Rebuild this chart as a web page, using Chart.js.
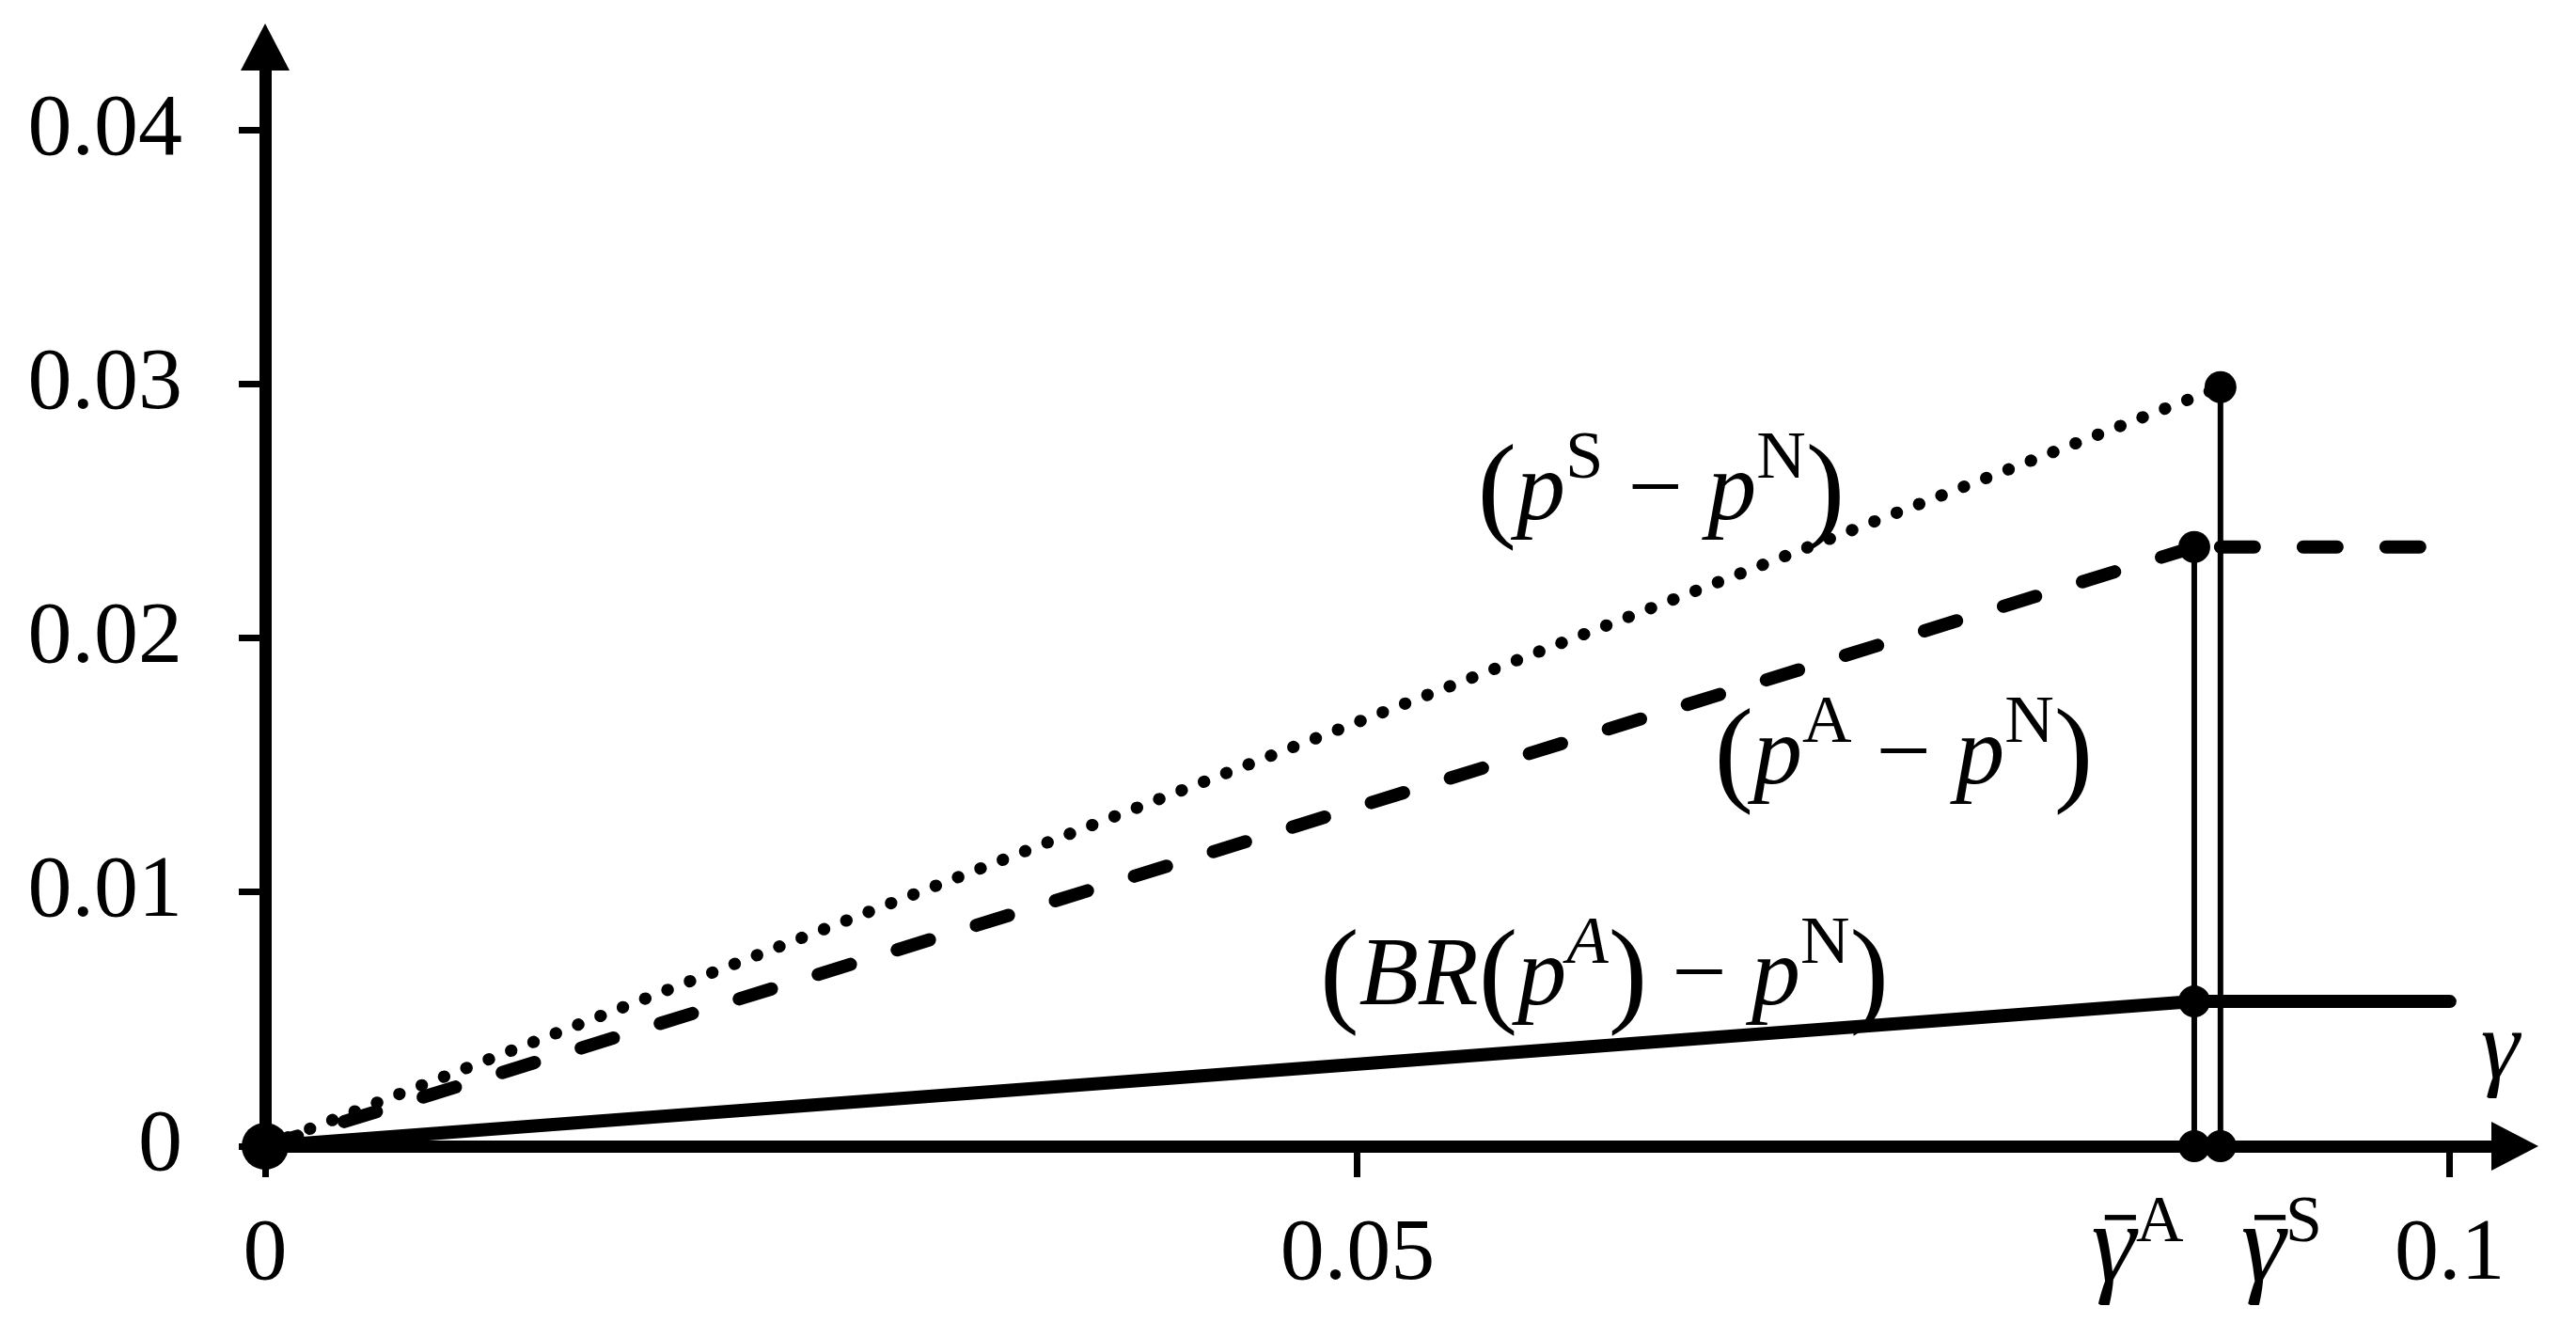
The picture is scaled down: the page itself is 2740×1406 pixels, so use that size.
<!DOCTYPE html>
<html>
<head>
<meta charset="utf-8">
<script src="https://cdn.jsdelivr.net/npm/chart.js@4.4.1/dist/chart.umd.min.js"></script>
<style>
    body { margin: 0; background: #fff; }
    #wrap { width: 2740px; height: 1406px; position: relative; }
</style>
</head>
<body>
<div id="wrap"><canvas id="gapChart"></canvas></div>
<script>
// thresholds gamma-bar A and S, and right end of the plotted range
const gammaBar = [0.0883, 0.0895];
const gammaEnd = 0.1;

// curve values at gamma = 0 and at their threshold
const pSminusPN = [0, 0.0299];
const pAminusPN = [0, 0.0236];
const brMinusPN = [0, 0.0057];

const xTickValues = [0, 0.05, 0.1];
const xTickLabels = ['0', '0.05', '0.1'];
const yTickValues = [0, 0.01, 0.02, 0.03, 0.04];
const yTickLabels = ['0', '0.01', '0.02', '0.03', '0.04'];

const serif = "'Liberation Serif', 'Times New Roman', serif";

// text pieces: [text, style]   n normal, i italic, sn/si superscript, par bracket, ibar italic with bar
const annotations = [
    { x: 0.0639, y: 0.0247, size: 104, segs: [['(', 'par'], ['p', 'i'], ['S', 'sn'], [' \u2212 ', 'n'], ['p', 'i'], ['N', 'sn'], [')', 'par']] },
    { x: 0.0750, y: 0.0143, size: 104, segs: [['(', 'par'], ['p', 'i'], ['A', 'sn'], [' \u2212 ', 'n'], ['p', 'i'], ['N', 'sn'], [')', 'par']] },
    { x: 0.0613, y: 0.0056, size: 104, segs: [['(', 'par'], ['BR', 'i'], ['(', 'par'], ['p', 'i'], ['A', 'si'], [')', 'par'], [' \u2212 ', 'n'], ['p', 'i'], ['N', 'sn'], [')', 'par']] },
    { x: 0.1023, y: 0.0027, size: 104, segs: [['\u03b3', 'i']] },
    { x: 0.0857, y: -0.0053, size: 100, segs: [['\u03b3', 'ibar'], ['A', 'sn']] },
    { x: 0.0923, y: -0.0053, size: 100, segs: [['\u03b3', 'ibar'], ['S', 'sn']] }
];

function segFont(style, size) {
    const italic = (style === 'i' || style === 'si' || style === 'ibar') ? 'italic ' : '';
    let s = size;
    if (style === 'sn' || style === 'si') s = size * 0.7;
    if (style === 'par' || style === 'ibar') s = size * 1.2;
    return italic + s + 'px ' + serif;
}

function drawRich(ctx, segs, cx, baseY, size) {
    let total = 0;
    const widths = segs.map(([t, st]) => {
        ctx.font = segFont(st, size);
        const w = ctx.measureText(t).width;
        total += w;
        return w;
    });
    let x = cx - total / 2;
    segs.forEach(([t, st], i) => {
        ctx.font = segFont(st, size);
        let y = baseY;
        if (st === 'sn' || st === 'si') y -= size * 0.42;
        if (st === 'par') y += size * 0.07;
        ctx.fillText(t, x, y);
        if (st === 'ibar') {
            // bar over the letter
            ctx.fillRect(x + widths[i] * 0.3, baseY - size * 0.7, widths[i] * 0.7, size * 0.055);
        }
        x += widths[i];
    });
}

const axisDecor = {
    id: 'axisDecor',
    afterDraw(chart) {
        const ctx = chart.ctx;
        const area = chart.chartArea;
        const xs = chart.scales.x;
        const ys = chart.scales.y;
        ctx.save();
        ctx.fillStyle = '#000';
        // arrow heads
        ctx.beginPath();
        ctx.moveTo(area.left, area.top - 50);
        ctx.lineTo(area.left - 26, area.top);
        ctx.lineTo(area.left + 26, area.top);
        ctx.closePath();
        ctx.fill();
        ctx.beginPath();
        ctx.moveTo(area.right + 50, area.bottom);
        ctx.lineTo(area.right, area.bottom - 26);
        ctx.lineTo(area.right, area.bottom + 26);
        ctx.closePath();
        ctx.fill();
        // labels
        ctx.textBaseline = 'alphabetic';
        ctx.textAlign = 'left';
        annotations.forEach(a => {
            drawRich(ctx, a.segs, xs.getPixelForValue(a.x), ys.getPixelForValue(a.y), a.size);
        });
        ctx.restore();
    }
};

const gA = gammaBar[0];
const gS = gammaBar[1];

const lineBase = {
    showLine: true,
    pointRadius: 0,
    borderColor: '#000',
    backgroundColor: '#000',
    clip: false
};

const datasets = [
    Object.assign({}, lineBase, {
        label: 'pS - pN',
        data: [{ x: 0, y: pSminusPN[0] }, { x: gS, y: pSminusPN[1] }],
        borderWidth: 13,
        borderDash: [0.5, 25],
        borderCapStyle: 'round'
    }),
    Object.assign({}, lineBase, {
        label: 'pA - pN',
        data: [{ x: 0, y: pAminusPN[0] }, { x: gA, y: pAminusPN[1] }],
        borderWidth: 14,
        borderDash: [36, 52],
        borderCapStyle: 'round'
    }),
    Object.assign({}, lineBase, {
        label: 'pA - pN flat',
        data: [{ x: gS, y: pAminusPN[1] }, { x: gammaEnd, y: pAminusPN[1] }],
        borderWidth: 14,
        borderDash: [36, 52],
        borderCapStyle: 'round'
    }),
    Object.assign({}, lineBase, {
        label: 'BR(pA) - pN',
        data: [{ x: 0, y: brMinusPN[0] }, { x: gA, y: brMinusPN[1] }, { x: gammaEnd, y: brMinusPN[1] }],
        borderWidth: 14,
        borderCapStyle: 'round',
        borderJoinStyle: 'round'
    }),
    Object.assign({}, lineBase, {
        label: 'gamma A',
        data: [{ x: gA, y: 0 }, { x: gA, y: pAminusPN[1] }],
        borderWidth: 6
    }),
    Object.assign({}, lineBase, {
        label: 'gamma S',
        data: [{ x: gS, y: 0 }, { x: gS, y: pSminusPN[1] }],
        borderWidth: 6
    }),
    {
        label: 'points',
        showLine: false,
        clip: false,
        data: [
            { x: 0, y: 0 },
            { x: gA, y: pAminusPN[1] },
            { x: gS, y: pSminusPN[1] },
            { x: gA, y: brMinusPN[1] },
            { x: gA, y: 0 },
            { x: gS, y: 0 }
        ],
        pointRadius: ctx => ctx.dataIndex === 0 ? 25 : 17,
        pointBackgroundColor: '#000',
        pointBorderWidth: 0,
        order: -1
    }
];

new Chart(document.getElementById('gapChart'), {
    type: 'scatter',
    data: { datasets: datasets },
    options: {
        responsive: true,
        maintainAspectRatio: false,
        animation: false,
        layout: {
            padding: { top: 75, right: 90, left: 0, bottom: 0 }
        },
        plugins: {
            legend: { display: false },
            tooltip: { enabled: false }
        },
        scales: {
            x: {
                type: 'linear',
                position: 'bottom',
                min: 0,
                max: 0.1019,
                afterBuildTicks: scale => {
                    scale.ticks = xTickValues.map(v => ({ value: v }));
                },
                afterFit: scale => {
                    scale.height = 187;
                    scale.paddingLeft = 0;
                    scale.paddingRight = 0;
                },
                ticks: {
                    autoSkip: false,
                    maxRotation: 0,
                    padding: 27,
                    color: '#000',
                    font: { family: serif, size: 94 },
                    callback: value => xTickLabels[xTickValues.indexOf(value)]
                },
                grid: {
                    drawOnChartArea: false,
                    drawTicks: true,
                    tickLength: 33,
                    tickWidth: 7,
                    tickColor: '#000'
                },
                border: { display: true, width: 13, color: '#000' }
            },
            y: {
                type: 'linear',
                position: 'left',
                min: 0,
                max: 0.04237,
                afterBuildTicks: scale => {
                    scale.ticks = yTickValues.map(v => ({ value: v }));
                },
                afterFit: scale => {
                    scale.width = 282;
                    scale.paddingTop = 0;
                    scale.paddingBottom = 0;
                },
                ticks: {
                    autoSkip: false,
                    padding: 60,
                    color: '#000',
                    font: { family: serif, size: 94 },
                    callback: value => yTickLabels[yTickValues.indexOf(value)]
                },
                grid: {
                    drawOnChartArea: false,
                    drawTicks: true,
                    tickLength: 28,
                    tickWidth: 7,
                    tickColor: '#000'
                },
                border: { display: true, width: 13, color: '#000' }
            }
        }
    },
    plugins: [axisDecor]
});
</script>
</body>
</html>
